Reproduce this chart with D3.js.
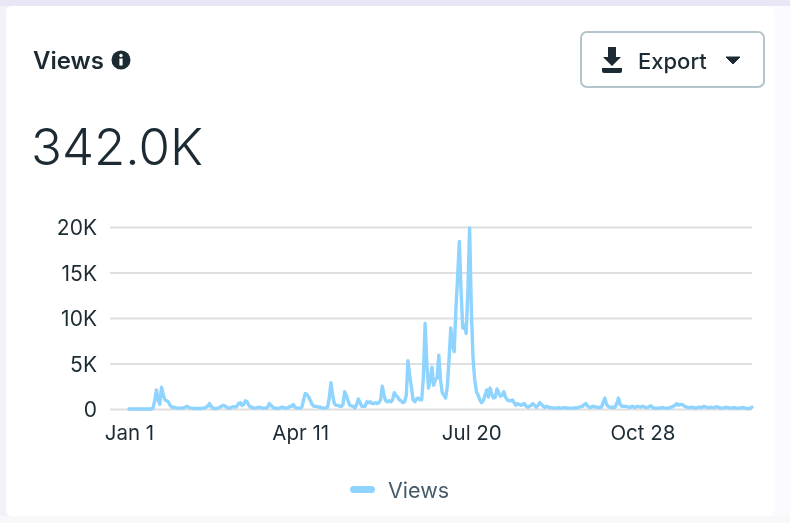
<!DOCTYPE html>
<html>
<head>
<meta charset="utf-8">
<script src="https://cdn.jsdelivr.net/npm/d3@7/dist/d3.min.js"></script>
<style>
html,body{margin:0;padding:0;background:#fff;overflow:hidden}
svg{display:block;filter:blur(0.7px)}
text{font-family:Inter,"Noto Sans",sans-serif}
</style>
</head>
<body>
<svg id="c" width="790" height="523"></svg>
<script>
const title = "Views";
const totalLabel = "342.0K";
const exportLabel = "Export";
const yTicks = [0, 5, 10, 15, 20];
const yTickLabels = ["0", "5K", "10K", "15K", "20K"];
const xTicks = [0, 100, 200, 300];
const xTickLabels = ["Jan 1", "Apr 11", "Jul 20", "Oct 28"];
// daily views, in thousands
const views = [
0,0,0,0,0,0,0,0,0,0,0,0,0,0,0.1,0.9,2.1,1.0,0.5,2.4,
1.6,1.0,0.9,0.8,0.4,0.2,0.2,0.15,0.1,0.1,0.1,0.1,0.15,0.2,0.3,0.15,0.1,0.1,0.05,0.05,
0.05,0.05,0.05,0.1,0.1,0.2,0.3,0.6,0.3,0.1,0.05,0.05,0.1,0.2,0.3,0.4,0.35,0.2,0.1,0.1,
0.2,0.25,0.2,0.3,0.6,0.7,0.4,0.5,0.9,0.8,0.4,0.2,0.2,0.1,0.1,0.15,0.2,0.15,0.1,0.1,
0.1,0.2,0.6,0.4,0.2,0.1,0.1,0.05,0.1,0.2,0.2,0.1,0.1,0.15,0.3,0.3,0.5,0.2,0.1,0.1,
0.1,0.2,1.0,1.7,1.6,1.3,0.9,0.5,0.3,0.3,0.25,0.2,0.2,0.1,0.1,0.1,0.2,1.2,2.9,1.5,
0.6,0.4,0.4,0.3,0.3,0.5,1.9,1.5,0.9,0.4,0.35,0.3,0.1,0.5,1.1,0.7,0.3,0.3,0.3,0.8,
0.7,0.8,0.6,0.6,0.7,0.6,0.7,1.0,2.5,1.5,0.9,0.8,0.9,0.8,1.0,1.8,1.5,1.3,1.0,0.9,
0.7,0.8,1.5,5.3,3.7,2.4,1.0,0.8,1.1,1.2,1.0,1.0,3.5,9.4,5.0,2.3,3.2,4.6,2.6,3.2,
3.4,5.9,3.2,1.8,1.5,1.2,2.5,5.5,8.9,7.0,6.3,11,14.5,18.4,13,8.9,9.2,8.3,13,19.9,
11,5.6,3.2,1.9,1.5,1.0,0.7,0.9,1.5,2.1,1.3,2.3,1.6,1.2,1.3,2.2,1.8,1.4,1.5,1.9,
1.3,1.0,0.9,0.9,1.0,0.7,0.4,0.6,0.5,0.4,0.5,0.6,0.3,0.2,0.3,0.4,0.6,0.4,0.2,0.4,
0.7,0.5,0.3,0.2,0.3,0.2,0.15,0.15,0.1,0.1,0.1,0.15,0.1,0.1,0.15,0.15,0.1,0.1,0.1,0.1,
0.1,0.15,0.1,0.2,0.25,0.3,0.5,0.6,0.3,0.2,0.2,0.3,0.25,0.2,0.2,0.15,0.2,0.7,1.2,0.5,
0.3,0.2,0.2,0.2,0.2,0.6,1.2,0.5,0.3,0.3,0.3,0.25,0.2,0.2,0.3,0.2,0.2,0.3,0.25,0.2,
0.3,0.25,0.15,0.15,0.3,0.35,0.15,0.1,0.1,0.1,0.1,0.15,0.15,0.1,0.1,0.1,0.15,0.2,0.3,0.4,
0.6,0.4,0.5,0.5,0.4,0.25,0.2,0.15,0.15,0.2,0.15,0.1,0.15,0.2,0.15,0.2,0.3,0.2,0.15,0.15,
0.2,0.15,0.15,0.25,0.2,0.15,0.1,0.1,0.15,0.2,0.15,0.1,0.1,0.15,0.15,0.1,0.1,0.1,0.15,0.15,0.1,0.05,0.05,0.1,0.2
];

const ink = "#1c2b33";
const lineColor = "#8ed4ff";
const svg = d3.select("#c");

// page and card
svg.append("rect").attr("width",790).attr("height",523).attr("fill","#f3f2fa");
svg.append("rect").attr("width",790).attr("height",6).attr("fill","#e9e6f5");
svg.append("rect").attr("y",516).attr("width",790).attr("height",7).attr("fill","#f8f8fb");
svg.append("rect").attr("x",6).attr("y",6).attr("width",790).attr("height",510).attr("rx",6).attr("fill","#fafaff");
svg.append("rect").attr("x",6).attr("y",6).attr("width",768).attr("height",510).attr("rx",6).attr("fill","#ffffff");

// header
svg.append("text").attr("x",33).attr("y",69).attr("font-size",24).attr("font-weight",600).attr("fill",ink).text(title);
const info = svg.append("g").attr("transform","translate(121,60)");
info.append("circle").attr("r",9.5).attr("fill",ink);
info.append("circle").attr("cy",-4.5).attr("r",1.7).attr("fill","#fff");
info.append("rect").attr("x",-1.6).attr("y",-1.5).attr("width",3.2).attr("height",7).attr("fill","#fff");

svg.append("text").attr("x",31).attr("y",165).attr("font-size",51).attr("font-weight",300).attr("fill",ink).text(totalLabel);

// export button
svg.append("rect").attr("x",581).attr("y",32).attr("width",183).attr("height",55).attr("rx",6)
  .attr("fill","#fff").attr("stroke","#b4c4cb").attr("stroke-width",2);
const dl = svg.append("g").attr("fill",ink);
dl.append("path").attr("d","M608 47h8v10h5l-9 9-9-9h5z");
dl.append("path").attr("d","M602 68h20v3a2 2 0 0 1-2 2h-16a2 2 0 0 1-2-2z");
svg.append("text").attr("x",638).attr("y",69).attr("font-size",22).attr("font-weight",500).attr("fill",ink).text(exportLabel);
svg.append("path").attr("d","M726 57h14l-7 7z").attr("fill",ink).attr("stroke",ink).attr("stroke-width",1).attr("stroke-linejoin","round");

// chart
const x = d3.scaleLinear().domain([0, views.length - 1]).range([129, 752]);
const y = d3.scaleLinear().domain([0, 20]).range([409, 227]);

const yAxis = d3.axisLeft(y).tickValues(yTicks).tickSize(0).tickPadding(0)
  .tickFormat((d,i)=>yTickLabels[i]);
const gy = svg.append("g").attr("transform","translate(97,0)").call(yAxis);
gy.select(".domain").remove();
gy.selectAll("text").attr("font-size",21).attr("fill",ink).attr("font-weight",400).attr("dy","0.36em");

const grid = d3.axisLeft(y).tickValues(yTicks).tickSize(-642).tickFormat("");
const gg = svg.append("g").attr("transform","translate(110,0)").call(grid);
gg.select(".domain").remove();
gg.selectAll("line").attr("stroke","#dfdfdf").attr("stroke-width",2);

const xAxis = d3.axisBottom(x).tickValues(xTicks).tickSize(0).tickPadding(0)
  .tickFormat((d,i)=>xTickLabels[i]);
const gx = svg.append("g").attr("transform","translate(0,425)").call(xAxis);
gx.select(".domain").remove();
gx.selectAll("text").attr("font-size",20.5).attr("fill",ink).attr("dy","0.71em");

const line = d3.line().x((d,i)=>x(i)).y(d=>y(d));
svg.append("path").datum(views).attr("d",line).attr("fill","none")
  .attr("stroke",lineColor).attr("stroke-width",3.4).attr("stroke-linejoin","round").attr("stroke-linecap","round");

// legend
svg.append("rect").attr("x",350).attr("y",486).attr("width",25).attr("height",7).attr("rx",3.5).attr("fill",lineColor);
svg.append("text").attr("x",388).attr("y",498).attr("font-size",21.5).attr("fill","#465a69").text(title);
</script>
</body>
</html>
